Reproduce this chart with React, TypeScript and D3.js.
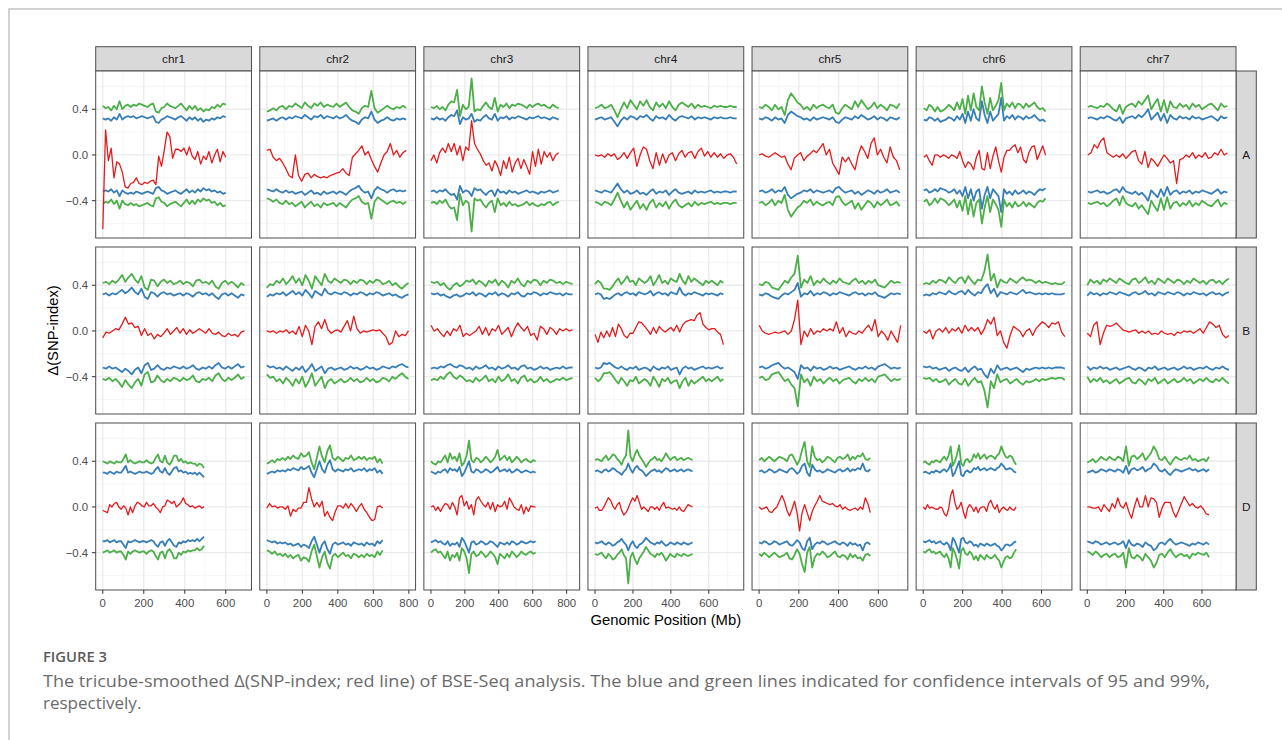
import React from 'react';
import * as d3 from 'd3';

// ---------------- data ----------------
const chromosomes = ['chr1', 'chr2', 'chr3', 'chr4', 'chr5', 'chr6', 'chr7'];
const bulks = ['A', 'B', 'D'];
// maximum genomic position (Mb) per chromosome column (shared x range)
const chrLength = [691, 798, 835, 747, 713, 718, 741];
const xTickValues = [0, 200, 400, 600, 800];
const xMinorValues = [100, 300, 500, 700];
const yTickValues = [-0.4, 0, 0.4];
const yMinorValues = [-0.6, -0.2, 0.2, 0.6];

// first / last position (Mb) of each panel's lines
const spanStartA = [0, 0, 0, 0, 0, 3, 3];
const spanEndA = [600, 785, 753, 747, 708, 620, 733];
const spanStartB = [0, 0, 0, 0, 0, 0, 0];
const spanEndB = [691, 798, 835, 677, 713, 718, 741];
const spanStartD = [0, 0, 0, 0, 0, 0, 0];
const spanEndD = [494, 652, 617, 514, 560, 471, 637];

// tricube-smoothed delta(SNP-index), row A
const deltaA = [
  [-0.65,0.22,-0.05,0.06,-0.2,-0.06,-0.08,-0.15,-0.28,-0.29,-0.25,-0.24,-0.2,-0.25,-0.26,-0.24,-0.25,-0.23,-0.22,-0.26,-0.01,-0.1,0.04,0.2,0.16,-0.03,0.05,0.05,0.03,0.06,0.0,0.07,-0.01,-0.04,0.03,-0.08,-0.01,-0.04,0.03,-0.07,0.0,0.05,-0.06,0.03,-0.02],
  [0.04,0.05,-0.02,-0.05,-0.03,-0.07,-0.12,-0.18,-0.2,0.0,-0.18,-0.23,-0.17,-0.16,-0.2,-0.17,-0.19,-0.2,-0.19,-0.2,-0.18,-0.17,-0.16,-0.15,-0.12,-0.16,-0.18,-0.02,0.01,0.04,0.08,0.0,0.03,-0.04,-0.1,-0.15,-0.07,0.0,0.03,0.1,0.0,0.04,-0.02,0.02,0.04],
  [-0.05,0.0,-0.07,0.02,0.06,0.02,0.1,0.03,0.1,0.0,0.08,-0.05,0.07,0.04,0.3,0.1,0.05,0.01,-0.05,-0.09,-0.07,-0.14,-0.05,-0.1,-0.18,-0.05,-0.12,-0.02,-0.15,-0.07,-0.03,-0.12,-0.04,-0.1,-0.17,0.03,-0.1,0.05,-0.08,0.03,-0.02,0.02,-0.05,0.0,0.02],
  [0.0,-0.01,0.0,-0.02,0.01,-0.01,0.01,-0.04,-0.02,0.02,-0.03,0.02,0.06,-0.1,0.0,0.07,0.05,-0.05,-0.12,0.02,-0.09,0.01,-0.07,0.0,0.02,-0.05,0.01,0.04,-0.02,0.02,0.03,-0.03,0.03,0.06,-0.01,0.03,-0.02,0.02,-0.02,0.01,-0.03,0.0,0.01,-0.02,-0.08],
  [0.0,0.01,-0.01,-0.02,0.0,0.02,0.0,-0.02,-0.01,-0.08,-0.13,-0.03,0.0,0.02,-0.05,-0.01,0.01,0.04,0.02,0.06,0.1,0.0,0.05,-0.07,-0.12,-0.17,-0.02,-0.06,-0.02,-0.08,-0.13,0.0,0.08,0.03,-0.03,0.1,0.15,0.0,0.05,-0.02,-0.07,0.07,-0.02,-0.05,-0.13],
  [-0.02,0.0,-0.05,-0.09,0.0,0.0,-0.02,0.0,-0.01,-0.03,0.0,-0.01,-0.03,0.03,-0.05,-0.11,-0.06,-0.08,-0.13,-0.02,0.04,-0.12,-0.13,0.02,-0.12,-0.01,0.07,-0.05,-0.15,-0.02,0.04,0.04,0.07,0.09,0.02,0.07,-0.04,-0.07,0.02,0.07,0.08,-0.04,0.02,0.08,0.0],
  [0.0,0.02,0.09,0.06,0.12,0.15,0.02,0.0,-0.02,0.0,-0.02,0.01,-0.03,0.0,0.03,0.04,-0.05,-0.08,0.03,-0.11,-0.03,-0.06,-0.1,-0.05,0.0,-0.03,-0.07,-0.05,-0.25,-0.04,-0.03,0.0,-0.02,0.02,-0.03,0.0,-0.02,0.02,-0.03,-0.02,0.02,0.0,0.05,0.0,0.02],
];
// 95% confidence interval (upper bound; lower bound is its mirror), row A
const ci95A = [
  [0.32,0.31,0.32,0.3,0.33,0.31,0.36,0.31,0.33,0.34,0.33,0.34,0.32,0.33,0.34,0.33,0.32,0.33,0.34,0.29,0.28,0.31,0.32,0.34,0.33,0.32,0.31,0.33,0.34,0.32,0.3,0.33,0.31,0.33,0.3,0.32,0.29,0.31,0.3,0.32,0.31,0.33,0.32,0.34,0.33],
  [0.3,0.31,0.32,0.3,0.32,0.33,0.31,0.33,0.32,0.34,0.33,0.32,0.35,0.33,0.31,0.34,0.33,0.35,0.32,0.34,0.33,0.32,0.34,0.32,0.33,0.35,0.32,0.3,0.29,0.27,0.31,0.33,0.32,0.38,0.31,0.28,0.3,0.31,0.33,0.31,0.3,0.32,0.31,0.32,0.31],
  [0.32,0.31,0.33,0.31,0.32,0.3,0.33,0.35,0.34,0.39,0.27,0.33,0.31,0.32,0.36,0.29,0.31,0.3,0.33,0.35,0.32,0.31,0.36,0.3,0.33,0.32,0.34,0.31,0.33,0.32,0.34,0.33,0.32,0.31,0.33,0.32,0.33,0.34,0.32,0.33,0.32,0.31,0.33,0.32,0.31],
  [0.31,0.32,0.33,0.31,0.32,0.33,0.29,0.25,0.3,0.33,0.31,0.34,0.33,0.31,0.34,0.33,0.35,0.32,0.3,0.34,0.32,0.33,0.31,0.35,0.32,0.3,0.33,0.34,0.33,0.32,0.34,0.31,0.33,0.32,0.33,0.32,0.31,0.33,0.32,0.33,0.32,0.32,0.33,0.32,0.32],
  [0.32,0.31,0.33,0.32,0.3,0.33,0.31,0.32,0.28,0.35,0.38,0.36,0.34,0.33,0.31,0.32,0.3,0.33,0.31,0.32,0.33,0.32,0.31,0.33,0.29,0.28,0.31,0.33,0.32,0.31,0.34,0.32,0.35,0.33,0.31,0.32,0.34,0.31,0.33,0.32,0.3,0.33,0.32,0.31,0.33],
  [0.31,0.3,0.33,0.32,0.3,0.32,0.29,0.3,0.31,0.33,0.32,0.3,0.34,0.31,0.36,0.28,0.38,0.3,0.4,0.32,0.3,0.47,0.35,0.28,0.38,0.3,0.33,0.36,0.5,0.3,0.34,0.32,0.35,0.31,0.34,0.33,0.31,0.34,0.32,0.33,0.35,0.32,0.3,0.31,0.29],
  [0.32,0.33,0.32,0.31,0.33,0.32,0.34,0.33,0.31,0.3,0.33,0.28,0.32,0.33,0.34,0.32,0.35,0.33,0.36,0.4,0.31,0.34,0.37,0.3,0.36,0.28,0.35,0.32,0.31,0.34,0.32,0.33,0.31,0.34,0.32,0.33,0.31,0.32,0.33,0.34,0.32,0.3,0.34,0.32,0.33],
];
// 99% confidence interval (upper bound), row A
const ci99A = [
  [0.43,0.41,0.42,0.39,0.43,0.4,0.47,0.4,0.43,0.44,0.42,0.44,0.43,0.45,0.44,0.43,0.42,0.44,0.45,0.38,0.37,0.41,0.42,0.45,0.43,0.42,0.41,0.43,0.45,0.42,0.39,0.43,0.4,0.43,0.39,0.41,0.38,0.4,0.39,0.42,0.41,0.44,0.42,0.45,0.44],
  [0.38,0.39,0.41,0.39,0.42,0.43,0.4,0.43,0.42,0.45,0.43,0.41,0.46,0.43,0.41,0.45,0.43,0.46,0.42,0.44,0.43,0.42,0.45,0.42,0.44,0.46,0.42,0.39,0.38,0.36,0.41,0.43,0.42,0.56,0.41,0.37,0.39,0.41,0.43,0.41,0.4,0.42,0.41,0.43,0.41],
  [0.42,0.41,0.43,0.4,0.42,0.39,0.44,0.47,0.46,0.57,0.34,0.44,0.4,0.42,0.67,0.38,0.4,0.39,0.43,0.46,0.42,0.4,0.5,0.38,0.44,0.42,0.45,0.41,0.44,0.43,0.45,0.44,0.43,0.41,0.44,0.42,0.44,0.45,0.43,0.44,0.42,0.41,0.44,0.42,0.41],
  [0.41,0.42,0.44,0.41,0.42,0.44,0.39,0.33,0.4,0.46,0.41,0.48,0.44,0.4,0.47,0.43,0.48,0.42,0.39,0.46,0.42,0.45,0.41,0.47,0.42,0.39,0.44,0.46,0.44,0.42,0.45,0.41,0.44,0.42,0.43,0.42,0.41,0.43,0.42,0.43,0.42,0.42,0.43,0.42,0.42],
  [0.42,0.41,0.44,0.42,0.39,0.44,0.4,0.42,0.35,0.48,0.54,0.5,0.46,0.44,0.4,0.42,0.39,0.44,0.41,0.43,0.44,0.42,0.41,0.44,0.37,0.36,0.41,0.44,0.42,0.4,0.47,0.42,0.48,0.44,0.4,0.42,0.46,0.41,0.44,0.42,0.39,0.44,0.43,0.41,0.45],
  [0.41,0.39,0.44,0.42,0.38,0.42,0.38,0.39,0.41,0.44,0.42,0.39,0.46,0.4,0.49,0.36,0.52,0.39,0.54,0.42,0.39,0.6,0.46,0.36,0.5,0.39,0.43,0.48,0.63,0.39,0.45,0.42,0.46,0.41,0.45,0.44,0.41,0.45,0.42,0.44,0.46,0.42,0.4,0.41,0.38],
  [0.42,0.43,0.42,0.41,0.43,0.42,0.45,0.43,0.4,0.38,0.44,0.36,0.42,0.44,0.45,0.42,0.47,0.44,0.48,0.52,0.4,0.45,0.49,0.38,0.48,0.37,0.47,0.42,0.41,0.45,0.42,0.44,0.4,0.45,0.42,0.44,0.4,0.42,0.44,0.45,0.42,0.39,0.45,0.42,0.43],
];

// row B
const deltaB = [
  [-0.06,-0.01,-0.02,0.0,0.02,0.01,0.06,0.12,0.06,0.07,0.03,0.04,-0.04,0.02,-0.04,-0.02,-0.07,-0.03,-0.05,-0.02,0.02,-0.03,0.0,0.03,-0.02,0.02,-0.03,0.01,-0.02,0.0,0.02,0.0,-0.02,0.02,-0.02,-0.03,-0.01,-0.04,-0.05,-0.02,-0.04,-0.03,-0.05,-0.01,0.0],
  [0.0,-0.01,0.0,-0.02,0.0,-0.01,0.01,-0.02,0.0,-0.03,0.04,-0.05,0.05,0.0,-0.12,0.04,0.08,0.02,0.1,0.01,-0.02,0.0,0.01,-0.01,0.04,0.09,0.0,0.13,0.02,-0.02,0.0,-0.01,0.0,0.01,0.0,0.01,-0.02,-0.05,-0.12,-0.1,0.0,-0.05,-0.03,-0.04,0.0],
  [0.05,0.0,0.02,-0.02,-0.05,0.0,-0.04,0.02,0.0,0.05,-0.05,-0.02,-0.04,-0.02,0.0,0.04,-0.03,0.03,-0.04,0.02,0.0,0.05,-0.03,0.0,0.03,-0.05,0.02,0.07,0.03,0.0,0.04,-0.04,-0.02,-0.08,0.04,0.02,-0.03,0.03,0.01,-0.03,0.02,0.0,0.02,0.0,0.01],
  [-0.03,-0.1,-0.01,-0.06,0.0,-0.05,0.03,-0.05,0.06,0.02,-0.04,-0.06,-0.02,-0.02,0.03,0.08,0.07,0.04,0.01,-0.03,0.03,-0.02,0.04,0.01,-0.01,0.01,0.03,0.0,0.05,-0.01,0.05,0.08,0.09,0.1,0.09,0.14,0.16,0.06,0.03,0.01,0.02,0.02,-0.01,-0.03,-0.12],
  [0.05,0.0,-0.02,-0.03,-0.02,-0.01,-0.02,-0.01,0.0,-0.03,0.0,0.1,0.27,-0.12,0.0,-0.05,0.02,-0.03,0.0,-0.01,0.02,0.0,0.02,0.0,0.08,-0.02,0.03,-0.05,0.0,-0.02,-0.03,0.0,-0.02,0.02,0.05,0.0,0.1,-0.05,0.0,-0.03,-0.08,0.0,-0.05,-0.1,0.05],
  [0.0,-0.02,0.01,-0.07,0.0,0.02,-0.01,0.03,-0.02,0.02,0.0,0.03,-0.02,0.05,0.0,0.03,0.0,0.03,-0.03,0.02,0.1,0.06,0.12,-0.04,0.0,-0.1,-0.15,-0.04,0.04,0.02,0.0,-0.05,0.0,0.02,-0.04,0.02,0.05,0.08,0.06,0.03,0.07,0.06,0.08,-0.01,-0.05],
  [-0.02,-0.05,0.05,0.08,-0.12,-0.02,0.05,0.04,0.05,0.07,0.04,0.01,0.0,-0.01,0.0,0.01,-0.02,0.0,-0.02,0.0,-0.03,-0.02,-0.03,0.0,-0.02,-0.03,-0.02,-0.04,-0.01,-0.02,0.0,-0.01,0.0,-0.02,0.0,0.02,-0.02,0.03,0.08,0.06,0.03,0.05,-0.03,-0.06,-0.04],
];
const ci95B = [
  [0.32,0.33,0.31,0.33,0.32,0.34,0.36,0.33,0.35,0.38,0.34,0.32,0.37,0.3,0.28,0.34,0.33,0.3,0.33,0.34,0.32,0.33,0.31,0.32,0.33,0.31,0.33,0.32,0.3,0.33,0.34,0.32,0.33,0.31,0.33,0.3,0.28,0.32,0.33,0.31,0.33,0.31,0.29,0.32,0.31],
  [0.3,0.32,0.31,0.33,0.32,0.34,0.31,0.33,0.35,0.32,0.34,0.31,0.36,0.33,0.29,0.35,0.33,0.31,0.37,0.33,0.32,0.34,0.33,0.32,0.34,0.33,0.31,0.33,0.32,0.34,0.33,0.31,0.33,0.32,0.34,0.33,0.31,0.32,0.33,0.31,0.32,0.3,0.29,0.31,0.32],
  [0.33,0.32,0.33,0.31,0.32,0.3,0.29,0.31,0.32,0.3,0.31,0.33,0.32,0.34,0.31,0.33,0.32,0.3,0.33,0.32,0.34,0.31,0.33,0.32,0.3,0.33,0.32,0.34,0.31,0.3,0.33,0.32,0.34,0.33,0.31,0.33,0.32,0.34,0.33,0.32,0.33,0.31,0.33,0.32,0.32],
  [0.32,0.33,0.32,0.28,0.29,0.28,0.3,0.32,0.33,0.31,0.33,0.34,0.32,0.33,0.31,0.34,0.33,0.32,0.33,0.35,0.31,0.33,0.34,0.32,0.33,0.31,0.34,0.33,0.32,0.38,0.33,0.31,0.33,0.32,0.34,0.33,0.32,0.31,0.33,0.32,0.33,0.32,0.31,0.33,0.32],
  [0.32,0.31,0.33,0.32,0.3,0.29,0.28,0.31,0.33,0.32,0.34,0.36,0.42,0.3,0.33,0.32,0.35,0.31,0.33,0.32,0.34,0.33,0.31,0.33,0.32,0.34,0.33,0.32,0.31,0.33,0.34,0.32,0.33,0.31,0.33,0.32,0.34,0.31,0.3,0.29,0.31,0.33,0.32,0.33,0.32],
  [0.31,0.32,0.31,0.33,0.32,0.34,0.33,0.32,0.35,0.33,0.32,0.34,0.35,0.32,0.36,0.33,0.31,0.34,0.33,0.38,0.41,0.33,0.37,0.3,0.34,0.33,0.32,0.34,0.33,0.32,0.34,0.36,0.33,0.34,0.33,0.32,0.33,0.32,0.33,0.32,0.33,0.32,0.32,0.32,0.33],
  [0.31,0.34,0.32,0.33,0.31,0.33,0.32,0.34,0.33,0.32,0.34,0.33,0.32,0.31,0.33,0.34,0.32,0.33,0.35,0.32,0.33,0.31,0.34,0.33,0.32,0.34,0.33,0.32,0.34,0.33,0.31,0.33,0.32,0.34,0.33,0.32,0.33,0.31,0.33,0.34,0.32,0.33,0.31,0.33,0.34],
];
const ci99B = [
  [0.42,0.43,0.41,0.44,0.42,0.45,0.49,0.43,0.47,0.5,0.45,0.42,0.48,0.38,0.36,0.45,0.44,0.39,0.43,0.45,0.42,0.44,0.41,0.42,0.44,0.41,0.43,0.42,0.39,0.44,0.45,0.42,0.43,0.41,0.44,0.39,0.37,0.42,0.44,0.41,0.43,0.41,0.38,0.42,0.4],
  [0.38,0.41,0.4,0.44,0.42,0.46,0.41,0.44,0.48,0.42,0.46,0.4,0.49,0.44,0.37,0.48,0.44,0.4,0.5,0.44,0.42,0.46,0.44,0.42,0.45,0.44,0.41,0.44,0.42,0.45,0.44,0.41,0.44,0.42,0.45,0.44,0.41,0.42,0.44,0.4,0.42,0.39,0.37,0.4,0.42],
  [0.43,0.42,0.43,0.4,0.42,0.38,0.36,0.4,0.42,0.39,0.41,0.44,0.43,0.45,0.41,0.44,0.42,0.39,0.44,0.42,0.45,0.4,0.44,0.42,0.38,0.44,0.42,0.46,0.41,0.39,0.44,0.42,0.45,0.44,0.4,0.44,0.42,0.45,0.44,0.42,0.43,0.41,0.43,0.42,0.41],
  [0.41,0.44,0.42,0.37,0.37,0.36,0.39,0.43,0.46,0.41,0.44,0.48,0.43,0.44,0.4,0.46,0.44,0.42,0.44,0.48,0.4,0.44,0.49,0.42,0.44,0.41,0.46,0.44,0.43,0.5,0.44,0.41,0.48,0.43,0.46,0.44,0.42,0.4,0.44,0.42,0.44,0.42,0.4,0.44,0.42],
  [0.41,0.4,0.43,0.42,0.38,0.37,0.36,0.4,0.44,0.42,0.47,0.5,0.66,0.38,0.45,0.42,0.48,0.4,0.44,0.42,0.46,0.43,0.41,0.44,0.42,0.46,0.43,0.42,0.41,0.44,0.46,0.42,0.44,0.41,0.44,0.42,0.45,0.4,0.39,0.38,0.41,0.44,0.42,0.43,0.42],
  [0.41,0.42,0.41,0.44,0.42,0.45,0.44,0.42,0.47,0.44,0.42,0.46,0.47,0.42,0.48,0.44,0.41,0.45,0.44,0.52,0.67,0.44,0.5,0.38,0.45,0.43,0.42,0.46,0.44,0.42,0.45,0.47,0.44,0.45,0.44,0.42,0.44,0.42,0.43,0.42,0.41,0.42,0.41,0.41,0.43],
  [0.4,0.45,0.42,0.44,0.41,0.45,0.43,0.46,0.44,0.42,0.46,0.44,0.42,0.41,0.45,0.46,0.42,0.44,0.47,0.42,0.44,0.41,0.46,0.44,0.42,0.46,0.44,0.42,0.45,0.44,0.41,0.44,0.42,0.46,0.44,0.42,0.44,0.41,0.44,0.45,0.42,0.44,0.41,0.44,0.46],
];

// row D
const deltaD = [
  [-0.03,-0.04,-0.05,0.02,0.0,0.03,0.04,0.0,-0.02,0.01,-0.01,-0.07,0.0,-0.05,0.01,0.04,0.03,0.01,0.0,0.04,0.01,0.01,0.03,0.0,-0.02,-0.05,0.0,0.01,0.06,0.05,0.03,0.05,0.0,0.02,0.04,0.08,0.03,0.02,0.0,0.01,-0.01,0.0,0.01,-0.01,0.0],
  [-0.01,0.03,0.0,0.01,-0.01,0.0,0.0,-0.02,0.01,-0.08,-0.02,-0.04,-0.01,-0.01,0.04,0.04,0.17,0.07,0.0,0.04,0.0,0.05,-0.08,-0.04,-0.09,-0.12,-0.04,0.01,0.01,-0.01,0.03,-0.01,0.03,0.0,-0.04,0.0,0.03,-0.02,-0.05,-0.09,-0.12,-0.11,0.0,0.01,-0.01],
  [0.0,0.01,-0.03,0.0,-0.04,0.0,0.03,0.02,-0.02,0.04,0.0,-0.07,0.08,0.1,0.01,0.05,-0.02,0.02,-0.07,0.06,0.09,0.05,0.02,0.0,0.04,-0.02,0.04,-0.04,0.02,0.0,0.01,0.05,-0.02,0.08,0.04,0.0,-0.02,-0.03,0.02,-0.06,0.0,-0.04,0.01,0.0,0.0],
  [-0.01,0.0,-0.03,-0.03,0.0,0.04,0.08,0.06,0.01,-0.02,0.02,0.04,-0.03,-0.07,-0.05,-0.01,0.04,0.08,0.05,0.1,0.04,-0.02,0.0,-0.02,-0.04,0.0,0.0,-0.02,0.0,-0.03,0.01,0.04,-0.01,0.0,-0.01,-0.02,-0.01,-0.03,0.0,-0.03,-0.04,-0.01,0.02,0.01,0.0],
  [0.0,-0.02,-0.01,0.0,-0.04,-0.05,-0.02,0.0,0.05,0.1,0.05,-0.03,-0.08,-0.02,0.05,-0.05,-0.21,-0.05,0.02,-0.05,-0.12,-0.04,0.01,0.05,0.1,0.05,0.04,0.03,0.02,0.03,0.01,0.0,0.02,-0.02,0.0,-0.02,-0.03,-0.02,-0.01,-0.03,0.0,-0.02,0.08,0.03,-0.05],
  [0.0,-0.02,0.02,-0.01,0.0,-0.01,-0.02,-0.02,0.0,-0.01,-0.06,-0.08,-0.02,0.1,0.15,0.04,-0.02,0.0,0.04,-0.04,-0.1,-0.01,0.02,0.0,-0.04,0.0,-0.05,-0.01,0.0,0.0,-0.04,0.03,0.06,0.01,-0.02,0.02,-0.05,-0.02,0.0,-0.02,-0.03,0.0,-0.02,-0.03,0.0],
  [0.0,0.0,-0.01,-0.01,0.0,-0.04,0.02,-0.01,-0.04,0.03,-0.01,0.08,0.01,-0.01,0.04,-0.04,-0.1,0.0,0.08,0.0,0.0,0.1,0.0,0.08,0.07,0.04,-0.09,-0.01,0.04,0.04,0.04,-0.04,-0.09,-0.03,0.03,0.09,0.05,0.01,0.03,0.0,-0.01,0.01,-0.02,-0.06,-0.07],
];
const ci95D = [
  [0.3,0.3,0.29,0.31,0.3,0.29,0.31,0.3,0.3,0.33,0.36,0.3,0.31,0.3,0.29,0.3,0.31,0.3,0.3,0.31,0.3,0.29,0.3,0.33,0.35,0.31,0.3,0.34,0.3,0.28,0.31,0.34,0.35,0.31,0.32,0.3,0.31,0.29,0.3,0.29,0.3,0.28,0.3,0.28,0.26],
  [0.29,0.3,0.31,0.3,0.32,0.31,0.32,0.31,0.33,0.32,0.34,0.33,0.32,0.35,0.33,0.34,0.36,0.3,0.26,0.33,0.4,0.33,0.3,0.37,0.41,0.33,0.31,0.33,0.32,0.31,0.33,0.32,0.34,0.31,0.32,0.33,0.32,0.34,0.31,0.33,0.32,0.34,0.3,0.32,0.29],
  [0.31,0.3,0.29,0.31,0.3,0.32,0.33,0.3,0.34,0.32,0.33,0.31,0.35,0.27,0.3,0.35,0.4,0.31,0.3,0.33,0.32,0.3,0.31,0.33,0.32,0.3,0.31,0.33,0.35,0.31,0.32,0.33,0.31,0.33,0.3,0.31,0.33,0.32,0.3,0.31,0.32,0.31,0.3,0.31,0.3],
  [0.31,0.32,0.31,0.3,0.32,0.33,0.31,0.32,0.34,0.33,0.31,0.3,0.28,0.31,0.33,0.38,0.33,0.3,0.34,0.36,0.33,0.32,0.3,0.27,0.29,0.31,0.32,0.33,0.31,0.32,0.3,0.32,0.34,0.33,0.31,0.32,0.33,0.31,0.32,0.33,0.31,0.32,0.33,0.32,0.31],
  [0.31,0.32,0.3,0.31,0.33,0.32,0.3,0.31,0.33,0.32,0.31,0.3,0.33,0.34,0.32,0.29,0.31,0.36,0.38,0.3,0.27,0.37,0.33,0.31,0.32,0.3,0.31,0.33,0.32,0.31,0.3,0.32,0.33,0.31,0.32,0.34,0.31,0.33,0.32,0.34,0.33,0.38,0.32,0.31,0.33],
  [0.3,0.31,0.3,0.29,0.31,0.3,0.32,0.31,0.3,0.32,0.33,0.31,0.33,0.38,0.27,0.3,0.35,0.4,0.28,0.27,0.31,0.32,0.3,0.31,0.34,0.33,0.35,0.32,0.33,0.34,0.32,0.33,0.34,0.33,0.32,0.34,0.35,0.38,0.36,0.33,0.33,0.34,0.33,0.31,0.3],
  [0.3,0.31,0.32,0.3,0.31,0.33,0.32,0.31,0.33,0.32,0.31,0.33,0.32,0.3,0.36,0.29,0.33,0.34,0.32,0.33,0.35,0.31,0.33,0.34,0.38,0.36,0.32,0.31,0.33,0.3,0.28,0.31,0.33,0.32,0.31,0.32,0.33,0.34,0.32,0.33,0.31,0.32,0.33,0.31,0.33],
];
const ci99D = [
  [0.4,0.39,0.38,0.4,0.39,0.38,0.4,0.39,0.39,0.42,0.46,0.39,0.41,0.39,0.38,0.39,0.4,0.39,0.39,0.41,0.39,0.38,0.39,0.43,0.46,0.4,0.39,0.45,0.39,0.37,0.4,0.45,0.45,0.4,0.42,0.39,0.4,0.38,0.39,0.38,0.38,0.36,0.38,0.37,0.34],
  [0.38,0.39,0.41,0.39,0.42,0.41,0.43,0.41,0.44,0.42,0.45,0.43,0.42,0.47,0.44,0.45,0.48,0.39,0.33,0.43,0.53,0.44,0.39,0.49,0.54,0.43,0.41,0.44,0.42,0.4,0.43,0.42,0.45,0.41,0.42,0.44,0.42,0.44,0.41,0.43,0.42,0.44,0.39,0.42,0.38],
  [0.4,0.38,0.37,0.4,0.39,0.42,0.45,0.39,0.47,0.42,0.44,0.4,0.47,0.36,0.39,0.45,0.58,0.41,0.39,0.43,0.42,0.39,0.41,0.44,0.42,0.39,0.41,0.44,0.5,0.41,0.43,0.45,0.41,0.44,0.39,0.41,0.44,0.42,0.39,0.41,0.42,0.4,0.39,0.41,0.4],
  [0.41,0.42,0.41,0.4,0.43,0.45,0.41,0.43,0.46,0.45,0.42,0.4,0.37,0.42,0.45,0.67,0.44,0.4,0.46,0.5,0.45,0.42,0.39,0.35,0.38,0.41,0.42,0.44,0.41,0.42,0.4,0.43,0.47,0.44,0.41,0.43,0.44,0.41,0.42,0.43,0.41,0.42,0.43,0.42,0.41],
  [0.41,0.43,0.4,0.42,0.44,0.42,0.4,0.42,0.44,0.43,0.42,0.4,0.45,0.46,0.42,0.37,0.41,0.5,0.57,0.4,0.35,0.53,0.44,0.41,0.42,0.39,0.41,0.44,0.43,0.41,0.39,0.43,0.44,0.42,0.43,0.46,0.41,0.44,0.42,0.45,0.44,0.47,0.42,0.41,0.43],
  [0.39,0.4,0.38,0.37,0.4,0.39,0.41,0.4,0.39,0.42,0.44,0.41,0.45,0.53,0.36,0.4,0.46,0.54,0.38,0.36,0.41,0.42,0.39,0.41,0.46,0.43,0.47,0.42,0.44,0.46,0.42,0.44,0.45,0.44,0.42,0.45,0.47,0.53,0.48,0.44,0.43,0.45,0.44,0.4,0.37],
  [0.39,0.4,0.42,0.39,0.41,0.44,0.42,0.41,0.44,0.42,0.41,0.44,0.43,0.4,0.53,0.36,0.44,0.45,0.42,0.44,0.47,0.41,0.44,0.47,0.53,0.49,0.42,0.41,0.44,0.4,0.37,0.41,0.44,0.42,0.41,0.43,0.42,0.45,0.41,0.42,0.4,0.41,0.42,0.4,0.44],
];

const rows = [
  { delta: deltaA, ci95: ci95A, ci99: ci99A, start: spanStartA, end: spanEndA },
  { delta: deltaB, ci95: ci95B, ci99: ci99B, start: spanStartB, end: spanEndB },
  { delta: deltaD, ci95: ci95D, ci99: ci99D, start: spanStartD, end: spanEndD },
];

// ---------------- layout ----------------
const W = 1282;
const H = 740;
const plotLeft = 95.7;
const plotRight = 1236;
const colGap = 8.3;
const panelW = (plotRight - plotLeft - colGap * 6) / 7;
const plotTop = 71;
const panelH = 167;
const rowGap = 9;
const stripH = 24.3;
const stripW = 20.3;

const RED = '#e41a1c';
const BLUE = '#377eb8';
const GREEN = '#4daf4a';
const FONT = '"Liberation Sans", Arial, Helvetica, sans-serif';
const CAPTION_FONT = '"Open Sans", "Noto Sans", sans-serif';

const yDomain: [number, number] = [-0.727, 0.735];

function Panel({ r, c }: { r: number; c: number }) {
  const x0 = plotLeft + c * (panelW + colGap);
  const y0 = plotTop + r * (panelH + rowGap);
  const len = chrLength[c];
  const x = d3.scaleLinear().domain([-0.05 * len, 1.05 * len]).range([x0, x0 + panelW]);
  const y = d3.scaleLinear().domain(yDomain).range([y0 + panelH, y0]);
  const row = rows[r];
  const s0 = row.start[c];
  const s1 = row.end[c];
  const pos = (i: number, n: number) => s0 + (i * (s1 - s0)) / (n - 1);
  const mk = (vals: number[], sign: number) =>
    d3
      .line<number>()
      .x((_, i) => x(pos(i, vals.length)))
      .y((v) => y(sign * v))(vals) || '';
  const [dmin, dmax] = x.domain();
  const xMaj = xTickValues.filter((t) => t >= dmin && t <= dmax);
  const xMin = xMinorValues.filter((t) => t >= dmin && t <= dmax);
  return (
    <g>
      <rect x={x0} y={y0} width={panelW} height={panelH} fill="#ffffff" />
      {yMinorValues.map((t) => (
        <line key={'ym' + t} x1={x0} x2={x0 + panelW} y1={y(t)} y2={y(t)} stroke="#f2f2f2" strokeWidth={0.7} />
      ))}
      {xMin.map((t) => (
        <line key={'xm' + t} x1={x(t)} x2={x(t)} y1={y0} y2={y0 + panelH} stroke="#f2f2f2" strokeWidth={0.7} />
      ))}
      {yTickValues.map((t) => (
        <line key={'yM' + t} x1={x0} x2={x0 + panelW} y1={y(t)} y2={y(t)} stroke="#ebebeb" strokeWidth={1.3} />
      ))}
      {xMaj.map((t) => (
        <line key={'xM' + t} x1={x(t)} x2={x(t)} y1={y0} y2={y0 + panelH} stroke="#ebebeb" strokeWidth={1.3} />
      ))}
      <path d={mk(row.ci95[c], 1)} fill="none" stroke={BLUE} strokeWidth={1.8} strokeLinejoin="round" />
      <path d={mk(row.ci95[c], -1)} fill="none" stroke={BLUE} strokeWidth={1.8} strokeLinejoin="round" />
      <path d={mk(row.ci99[c], 1)} fill="none" stroke={GREEN} strokeWidth={1.8} strokeLinejoin="round" />
      <path d={mk(row.ci99[c], -1)} fill="none" stroke={GREEN} strokeWidth={1.8} strokeLinejoin="round" />
      <path d={mk(row.delta[c], 1)} fill="none" stroke={RED} strokeWidth={1.3} strokeLinejoin="round" />
      <rect x={x0} y={y0} width={panelW} height={panelH} fill="none" stroke="#4d4d4d" strokeWidth={1} />
      {c === 0 &&
        yTickValues.map((t) => (
          <g key={'yt' + t}>
            <line x1={x0 - 3.8} x2={x0} y1={y(t)} y2={y(t)} stroke="#333333" strokeWidth={1} />
            <text x={x0 - 7.5} y={y(t)} dy="0.36em" textAnchor="end" fontSize={11.4} fill="#4d4d4d" fontFamily={FONT}>
              {d3.format('.1f')(t)}
            </text>
          </g>
        ))}
      {r === 2 &&
        xMaj.map((t) => (
          <g key={'xt' + t}>
            <line x1={x(t)} x2={x(t)} y1={y0 + panelH} y2={y0 + panelH + 3.8} stroke="#333333" strokeWidth={1} />
            <text x={x(t)} y={y0 + panelH + 17} textAnchor="middle" fontSize={11.4} fill="#4d4d4d" fontFamily={FONT}>
              {t}
            </text>
          </g>
        ))}
    </g>
  );
}

export default function App() {
  return (
    <div style={{ position: 'absolute', left: 0, top: 0, width: W, height: H, background: '#fff' }}>
      <svg width={W} height={H} viewBox={`0 0 ${W} ${H}`} style={{ display: 'block' }}>
        <rect x={0} y={0} width={W} height={H} fill="#ffffff" />
        <path d={`M${W},9 H9 V${H}`} fill="none" stroke="#c4c4c4" strokeWidth={1.5} />
        {chromosomes.map((name, c) => {
          const x0 = plotLeft + c * (panelW + colGap);
          return (
            <g key={name}>
              <rect x={x0} y={plotTop - stripH} width={panelW} height={stripH} fill="#d9d9d9" stroke="#4d4d4d" strokeWidth={1} />
              <text x={x0 + panelW / 2} y={plotTop - stripH / 2} dy="0.36em" textAnchor="middle" fontSize={11.8} fill="#1a1a1a" fontFamily={FONT}>
                {name}
              </text>
            </g>
          );
        })}
        {bulks.map((b, r) => {
          const y0 = plotTop + r * (panelH + rowGap);
          return (
            <g key={b}>
              <rect x={plotRight} y={y0} width={stripW} height={panelH} fill="#d9d9d9" stroke="#4d4d4d" strokeWidth={1} />
              <text x={plotRight + stripW / 2} y={y0 + panelH / 2} dy="0.36em" textAnchor="middle" fontSize={11.8} fill="#1a1a1a" fontFamily={FONT}>
                {b}
              </text>
            </g>
          );
        })}
        {bulks.map((b, r) => chromosomes.map((name, c) => <Panel key={b + name} r={r} c={c} />))}
        <text
          transform={`translate(53,${plotTop + (3 * panelH + 2 * rowGap) / 2}) rotate(-90)`}
          textAnchor="middle"
          dy="0.36em"
          fontSize={14.8}
          fill="#000"
          fontFamily={FONT}
        >
          Δ(SNP-index)
        </text>
        <text x={(plotLeft + plotRight) / 2} y={625} textAnchor="middle" fontSize={14.8} fill="#000" fontFamily={FONT}>
          Genomic Position (Mb)
        </text>
        <text x={43} y={662} fontSize={14.5} fontWeight={600} fill="#5b5b5b" fontFamily={CAPTION_FONT} textLength={64} lengthAdjust="spacingAndGlyphs">
          FIGURE 3
        </text>
        <text x={43} y={687} fontSize={17} fill="#6b6b6b" fontFamily={CAPTION_FONT} textLength={1167} lengthAdjust="spacingAndGlyphs">
          The tricube-smoothed Δ(SNP-index; red line) of BSE-Seq analysis. The blue and green lines indicated for confidence intervals of 95 and 99%,
        </text>
        <text x={43} y={709} fontSize={17} fill="#6b6b6b" fontFamily={CAPTION_FONT}>
          respectively.
        </text>
      </svg>
    </div>
  );
}
